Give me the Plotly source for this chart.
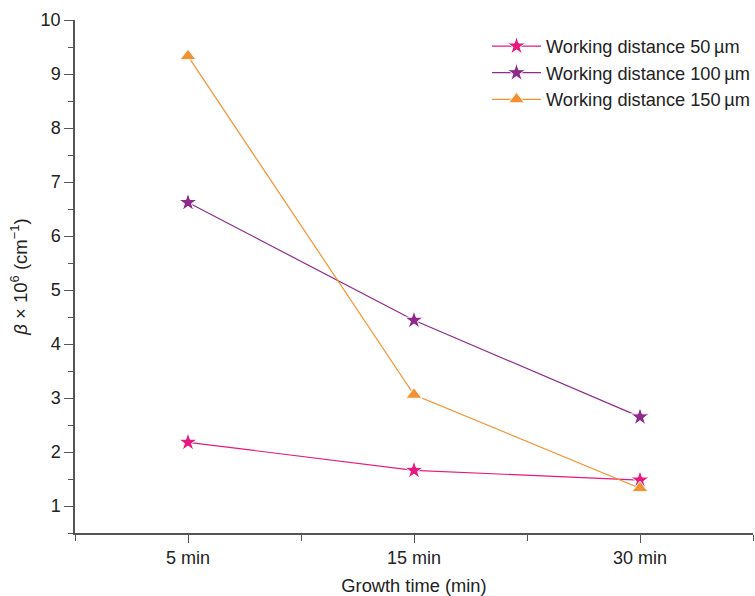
import plotly.graph_objects as go

categories = ["5 min", "15 min", "30 min"]
wd50 = [2.18, 1.66, 1.48]
wd100 = [6.62, 4.44, 2.65]
wd150 = [9.33, 3.06, 1.33]
series_names = ["Working distance 50\u2009\u00b5m", "Working distance 100\u2009\u00b5m", "Working distance 150\u2009\u00b5m"]
colors = ["#E5197F", "#8E2A8C", "#F39230"]
symbols = ["star", "star", "triangle-up"]

xpos = list(range(len(categories)))
fig = go.Figure()
for name, vals, c, s in zip(series_names, [wd50, wd100, wd150], colors, symbols):
    fig.add_trace(go.Scatter(
        x=xpos, y=vals, name=name, mode="lines+markers",
        line=dict(color=c, width=1.2),
        marker=dict(symbol=s, size=14, color=c,
                    line=dict(color="white", width=1)),
    ))

font = "Liberation Sans, Arial, sans-serif"
fig.update_layout(
    width=755, height=596,
    margin=dict(l=75, r=0, t=20, b=63),
    plot_bgcolor="white", paper_bgcolor="white",
    font=dict(family=font, size=18, color="#222"),
    showlegend=True,
    legend=dict(x=0.606, y=0.985, xanchor="left", yanchor="top",
                bgcolor="rgba(0,0,0,0)", font=dict(size=18.2), itemwidth=49,
                tracegroupgap=0),
    xaxis=dict(
        domain=[0, 678 / 680],
        range=[-0.5, 2.5], tickmode="array", tickvals=xpos, ticktext=categories,
        showline=True, linecolor="#555", linewidth=1.5, ticks="outside",
        ticklen=8, tickcolor="#555", showgrid=False, zeroline=False,
        tickfont=dict(size=18), automargin=False,
        minor=dict(tickmode="array", tickvals=[-0.5, 0.5, 1.5, 2.5], ticks="outside",
                   ticklen=6, tickcolor="#555"),
        title=dict(text="Growth time (min)", standoff=12, font=dict(size=18.3)),
    ),
    yaxis=dict(
        range=[0.5, 10], tickmode="array", tickvals=list(range(1, 11)),
        showline=True, linecolor="#555", linewidth=1.5, ticks="outside",
        ticklen=9, tickcolor="#555", showgrid=False, zeroline=False,
        tickfont=dict(size=18), automargin=False,
        minor=dict(tickmode="array", tickvals=[0.5 + i for i in range(10)], ticks="outside",
                   ticklen=5, tickcolor="#555"),
        title=dict(text="<i>\u03b2</i> \u00d7 10<sup>6</sup> (cm<sup>\u22121</sup>)", standoff=8, font=dict(size=18.5)),
    ),
)
fig.write_html("out.html", config={"displayModeBar": False},
               post_script="document.body.style.margin='0';document.body.style.overflow='hidden';")
